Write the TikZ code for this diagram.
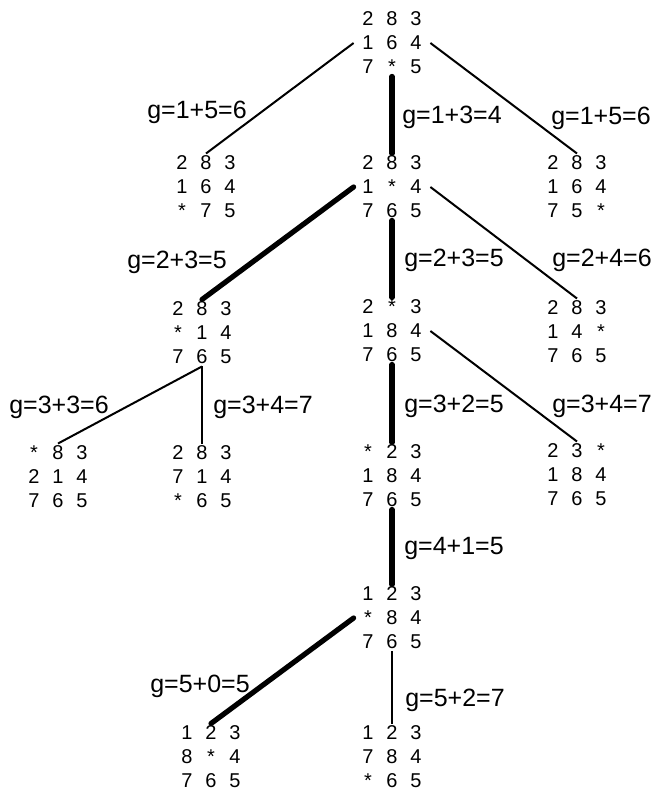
\documentclass[tikz,border=0pt]{standalone}
\usepackage{fontspec}
\setmainfont{Liberation Sans}

% one 3x3 board of the puzzle
\newcommand{\brd}[9]{%
  \makebox[12pt]{#1}\makebox[12pt]{#2}\makebox[12pt]{#3}\\
  \makebox[12pt]{#4}\makebox[12pt]{#5}\makebox[12pt]{#6}\\
  \makebox[12pt]{#7}\makebox[12pt]{#8}\makebox[12pt]{#9}}

\begin{document}
\begin{tikzpicture}[
    x=0.5pt, y=-0.5pt,
    board/.style={align=center, inner sep=1pt, font=\fontsize{10}{12}\selectfont},
    cost/.style={anchor=base, inner sep=0pt, font=\fontsize{12.5}{14}\selectfont},
    chosen/.style={line width=2.6pt, line cap=round},
    other/.style={line width=1pt},
    ]
\useasboundingbox (0,0) rectangle (655,795);

% boards, level by level
\node[board] (s0)  at (392,43)  {\brd 283164{7}{*}5};

\node[board] (s1a) at (206,187) {\brd 283164{*}75};
\node[board] (s1b) at (392,187) {\brd 2831{*}4765};
\node[board] (s1c) at (577,187) {\brd 28316475{*}};

\node[board] (s2a) at (202,333) {\brd 283{*}14765};
\node[board] (s2b) at (392,331) {\brd 2{*}3184765};
\node[board] (s2c) at (577,332) {\brd 28314{*}765};

\node[board] (s3a) at (58,477)  {\brd {*}83214765};
\node[board] (s3b) at (202,477) {\brd 283714{*}65};
\node[board] (s3c) at (392,476) {\brd {*}23184765};
\node[board] (s3d) at (577,475) {\brd 23{*}184765};

\node[board] (s4)  at (392,618) {\brd 123{*}84765};

\node[board] (s5a) at (211,757) {\brd 1238{*}4765};
\node[board] (s5b) at (392,757) {\brd 123784{*}65};

% moves
\draw[other]  (s0.west)  -- (s1a.north);
\draw[chosen] (s0.south) -- (s1b.north);
\draw[other]  (s0.east)  -- (s1c.north);

\draw[chosen] (s1b.west)  -- (s2a.north);
\draw[chosen] (s1b.south) -- (s2b.north);
\draw[other]  (s1b.east)  -- (s2c.north);

\draw[other]  (s2a.south) -- (s3a.north);
\draw[other]  (s2a.south) -- (s3b.north);
\draw[chosen] (s2b.south) -- (s3c.north);
\draw[other]  (s2b.east)  -- (s3d.north);

\draw[chosen] (s3c.south) -- (s4.north);

\draw[chosen] (s4.west) -- (s5a.north);
\draw[line width=0.6pt] (s4.south) -- (s5b.north);

% costs g = depth + misplaced tiles
\node[cost] (g1a) at (197,119) {g=1+5=6};
\node[cost] (g1b) at (452,124) {g=1+3=4};
\node[cost] (g1c) at (601,125) {g=1+5=6};

\node[cost] (g2a) at (177,269) {g=2+3=5};
\node[cost] (g2b) at (454,267) {g=2+3=5};
\node[cost] (g2c) at (602,267) {g=2+4=6};

\node[cost] (g3a) at (59,414)  {g=3+3=6};
\node[cost] (g3b) at (263,414) {g=3+4=7};
\node[cost] (g3c) at (454,412) {g=3+2=5};
\node[cost] (g3d) at (602,412) {g=3+4=7};

\node[cost] (g4)  at (454,554) {g=4+1=5};

\node[cost] (g5a) at (200,692) {g=5+0=5};
\node[cost] (g5b) at (455,706) {g=5+2=7};
\end{tikzpicture}
\end{document}
